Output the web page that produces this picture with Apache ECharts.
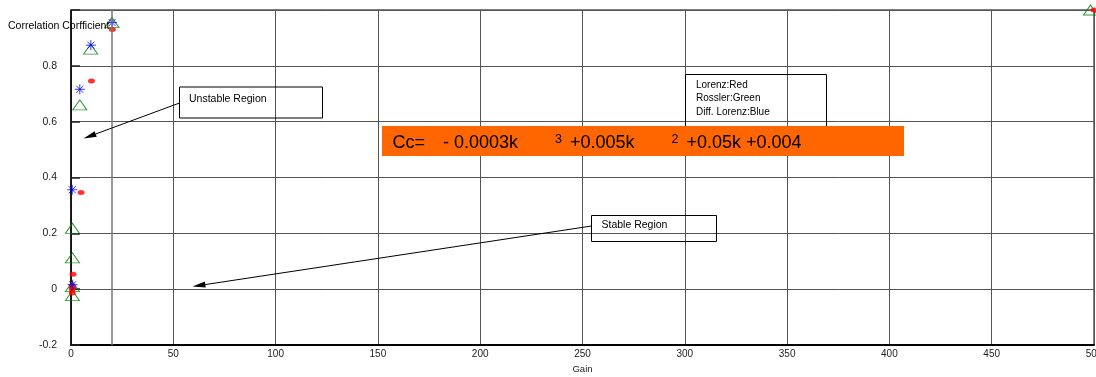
<!DOCTYPE html>
<html>
<head>
<meta charset="utf-8">
<title>Correlation Coefficient vs Gain</title>
<script src="https://cdn.jsdelivr.net/npm/echarts@6/dist/echarts.min.js"></script>
<style>
  html, body { margin: 0; padding: 0; background: #fff; }
  #chart { width: 1096px; height: 377px; }
</style>
</head>
<body>
<div id="chart"></div>
<script>
// Lorenz system (red dots)
const lorenzGain = [20.2, 10.0, 4.9, 1.0, 0.6, 0.6, 0.6, 500];
const lorenzCc   = [0.93, 0.746, 0.346, 0.053, 0.0125, 0.0, -0.014, 1.0];

// Rossler system (green triangles)
const rosslerGain = [20.0, 9.6, 4.3, 0.7, 0.7, 0.7, 0.7, 498.3];
const rosslerCc   = [0.955, 0.86, 0.66, 0.218, 0.112, 0.009, -0.023, 1.0];

// Differential Lorenz system (blue asterisks)
const diffGain = [20.1, 9.7, 4.3, 0.6, 0.8];
const diffCc   = [0.955, 0.874, 0.716, 0.356, 0.016];

// Axis settings
const gainTicks = [0, 50, 100, 150, 200, 250, 300, 350, 400, 450, 500];
const ccTicks = [-0.2, 0, 0.2, 0.4, 0.6, 0.8, 1.0];
const boundaryGain = 20;

const pairs = (xs, ys) => xs.map((x, i) => [x, ys[i]]);
const FONT = 'Liberation Sans, Arial, sans-serif';

const chart = echarts.init(document.getElementById('chart'));

// straight arrow with a filled narrow head
function arrow(x1, y1, x2, y2) {
  const dx = x2 - x1, dy = y2 - y1, L = Math.hypot(dx, dy);
  const ux = dx / L, uy = dy / L, len = 13, w = 3;
  const bx = x2 - ux * len, by = y2 - uy * len, px = -uy, py = ux;
  return [
    { type: 'line', z: 100, shape: { x1, y1, x2: bx, y2: by }, style: { stroke: '#000', lineWidth: 1 } },
    { type: 'polygon', z: 100, shape: { points: [[x2, y2], [bx + px * w, by + py * w], [bx - px * w, by - py * w]] }, style: { fill: '#000' } }
  ];
}

function label(x, y, text, size) {
  return {
    type: 'text', z: 101, x, y,
    style: { text, fill: '#000', fontSize: size, fontFamily: FONT, align: 'left', verticalAlign: 'middle' }
  };
}

function box(x, y, w, h) {
  return {
    type: 'rect', z: 100, shape: { x, y, width: w, height: h },
    style: { fill: 'rgba(0,0,0,0)', stroke: '#000', lineWidth: 1 }
  };
}

const graphics = [
  label(8, 26, 'Correlation Corfficient', 10.5),

  // Unstable region note
  box(179.5, 87, 143, 31),
  label(189, 99, 'Unstable Region', 10.5),
  ...arrow(179.5, 103, 83.5, 138.5),

  // Stable region note
  box(591.5, 215.5, 125, 26),
  label(601.5, 225.5, 'Stable Region', 10.5),
  ...arrow(591.5, 226, 192.5, 286.5),

  // Series key
  box(685.5, 74.5, 141, 56),
  label(696, 85, 'Lorenz:Red', 10),
  label(696, 98.5, 'Rossler:Green', 10),
  label(696, 112, 'Diff. Lorenz:Blue', 10),

  // Fitted polynomial
  { type: 'rect', z: 102, shape: { x: 382, y: 126, width: 522, height: 30 }, style: { fill: '#ff6600' } },
  { ...label(392.5, 143, 'Cc=', 18), z: 103 },
  { ...label(443, 143, '- 0.0003k', 18), z: 103 },
  { ...label(555, 139.5, '3', 12.5), z: 103 },
  { ...label(570, 143, '+0.005k', 18), z: 103 },
  { ...label(671.5, 139.5, '2', 12.5), z: 103 },
  { ...label(686.5, 143, '+0.05k +0.004', 18), z: 103 }
];

const asterisk = 'path://M5,0L5,10M0,5L10,5M1.5,1.5L8.5,8.5M1.5,8.5L8.5,1.5';

chart.setOption({
  backgroundColor: '#fff',
  animation: false,
  grid: {
    left: 71, right: 2, top: 10, bottom: 32,
    outerBoundsMode: 'none', containLabel: false,
    show: true, borderColor: '#000', borderWidth: 1
  },
  xAxis: {
    type: 'value',
    min: gainTicks[0], max: gainTicks[gainTicks.length - 1],
    interval: gainTicks[1] - gainTicks[0],
    name: 'Gain', nameLocation: 'middle', nameGap: 17,
    nameTextStyle: { fontSize: 9.5, color: '#222', fontFamily: FONT },
    axisLine: { onZero: false, lineStyle: { color: '#000', width: 2 } },
    axisTick: { show: false },
    axisLabel: { fontSize: 10, color: '#222', margin: 4, fontFamily: FONT },
    splitLine: { show: true, lineStyle: { color: '#555', width: 1 } }
  },
  yAxis: {
    type: 'value',
    min: ccTicks[0], max: ccTicks[ccTicks.length - 1],
    interval: 0.2,
    axisLine: { show: true, onZero: false, lineStyle: { color: '#000', width: 1.5 } },
    axisTick: { show: true, inside: true, length: 9, lineStyle: { color: '#222', width: 1.5 } },
    axisLabel: {
      fontSize: 10.5, color: '#222', margin: 14, fontFamily: FONT,
      formatter: v => (Math.abs(v - 1) < 1e-9 ? '' : String(+v.toFixed(1)))
    },
    splitLine: { show: true, lineStyle: { color: '#555', width: 1 } }
  },
  series: [
    {
      name: 'Rossler', type: 'scatter', clip: false,
      data: pairs(rosslerGain, rosslerCc),
      symbol: 'triangle', symbolSize: [14, 10],
      itemStyle: { color: 'rgba(0,0,0,0)', borderColor: '#008000', borderWidth: 1 },
      markLine: {
        silent: true, symbol: 'none', label: { show: false },
        lineStyle: { color: '#777', width: 1.5, type: 'solid' },
        data: [{ xAxis: boundaryGain }]
      }
    },
    {
      name: 'Lorenz', type: 'scatter', clip: false,
      data: pairs(lorenzGain, lorenzCc),
      symbol: 'circle', symbolSize: [7, 5],
      itemStyle: { color: '#ff0000' }
    },
    {
      name: 'Diff. Lorenz', type: 'scatter', clip: false,
      data: pairs(diffGain, diffCc),
      symbol: asterisk, symbolSize: 10,
      itemStyle: { color: '#0000ff', borderColor: '#0000ff', borderWidth: 1 }
    }
  ],
  graphic: graphics
});
</script>
</body>
</html>
